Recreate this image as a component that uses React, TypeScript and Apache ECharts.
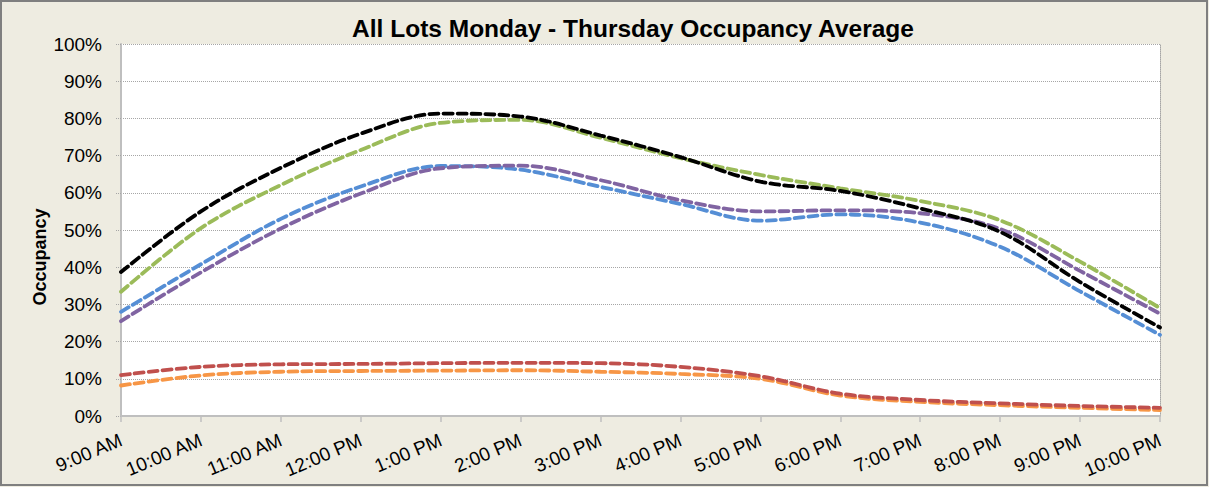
import React, { useEffect, useRef } from "react";
import * as echarts from "echarts";

const categories = [
  "9:00 AM", "10:00 AM", "11:00 AM", "12:00 PM", "1:00 PM", "2:00 PM", "3:00 PM",
  "4:00 PM", "5:00 PM", "6:00 PM", "7:00 PM", "8:00 PM", "9:00 PM", "10:00 PM",
];
const seriesBlack = [38.7, 55, 66.7, 75.9, 81.3, 80.5, 75.4, 69.6, 63, 60.5, 55.8, 49.5, 36, 23.8];
const seriesGreen = [33.4, 50.5, 62.1, 71.5, 78.8, 79.6, 74.8, 69.3, 64.8, 61.2, 57.8, 52.6, 41.5, 29];
const seriesBlue = [28, 40.8, 53, 61.7, 67.2, 66.2, 61.6, 57, 52.5, 54.2, 52, 45.5, 33.5, 21.8];
const seriesPurple = [25.5, 38.6, 50.4, 59.8, 66.6, 67.3, 63.4, 58, 55, 55.3, 54.5, 50.3, 39, 27.5];
const seriesRed = [11, 13.2, 13.9, 14, 14.2, 14.3, 14.2, 13.2, 10.7, 6, 4.3, 3.4, 2.7, 2.2];
const seriesOrange = [8.2, 10.9, 11.9, 12.1, 12.2, 12.3, 11.9, 11.3, 10, 5.5, 3.8, 2.9, 2.2, 1.6];

const titleText = "All Lots Monday - Thursday Occupancy Average";
const yAxisTitle = "Occupancy";

const lines = [
  { name: "Orange", data: seriesOrange, color: "#F79646" },
  { name: "Red", data: seriesRed, color: "#C0504D" },
  { name: "Blue", data: seriesBlue, color: "#558ED5" },
  { name: "Purple", data: seriesPurple, color: "#8064A2" },
  { name: "Green", data: seriesGreen, color: "#9BBB59" },
  { name: "Black", data: seriesBlack, color: "#000000" },
];

export default function App() {
  const ref = useRef<HTMLDivElement>(null);
  useEffect(() => {
    if (!ref.current) return;
    const chart = echarts.init(ref.current, null, { renderer: "svg" });
    const font = "'Liberation Sans', Arial, sans-serif";
    chart.setOption({
      animation: false,
      backgroundColor: "#EEECE1",
      textStyle: { fontFamily: font },
      title: {
        text: titleText,
        left: 628,
        top: 11,
        textAlign: "center",
        textStyle: { fontFamily: font, fontSize: 24.5, fontWeight: "bold", color: "#000" },
      },
      grid: {
        left: 121, right: 49, top: 44, bottom: 71,
        show: true, backgroundColor: "#FFFFFF", borderWidth: 0,
      },
      xAxis: {
        type: "category",
        data: categories,
        boundaryGap: false,
        axisLine: { show: true, lineStyle: { color: "#BFBFBF", width: 2 } },
        axisTick: { show: true, length: 6, alignWithLabel: true, lineStyle: { color: "#BFBFBF", width: 1.5 } },
        axisLabel: { rotate: 23, margin: 23, fontSize: 19, color: "#000", fontFamily: font, interval: 0 },
        splitLine: { show: false },
      },
      yAxis: [
        {
          type: "value",
          min: 0, max: 100, interval: 10,
          axisLine: { show: true, lineStyle: { color: "#BFBFBF", width: 2 } },
          axisTick: { show: true, length: 6, lineStyle: { color: "#A6A6A6", type: "dotted" } },
          axisLabel: { formatter: "{value}%", fontSize: 19, color: "#000", margin: 19, fontFamily: font },
          splitLine: { show: true, lineStyle: { color: "#A6A6A6", type: "dotted", width: 1 } },
        },
        {
          type: "value",
          position: "right",
          min: 0, max: 100, interval: 10,
          axisLine: { show: true, lineStyle: { color: "#A6A6A6", type: "dotted", width: 1 } },
          axisTick: { show: false },
          axisLabel: { show: false },
          splitLine: { show: false },
        },
      ],
      graphic: [
        {
          type: "rect",
          shape: { x: 1, y: 1, width: 1206, height: 484 },
          style: { fill: "none", stroke: "#7F7F7F", lineWidth: 2 },
          silent: true,
        },
        {
          type: "text",
          x: 40,
          y: 257,
          rotation: Math.PI / 2,
          style: {
            text: yAxisTitle,
            fontSize: 18,
            fontWeight: "bold",
            fontFamily: font,
            fill: "#000",
            align: "center",
            verticalAlign: "middle",
          },
        },
      ],
      series: lines.map((l) => ({
        name: l.name,
        type: "line",
        data: l.data,
        yAxisIndex: 0,
        smooth: 0.35,
        showSymbol: false,
        symbol: "none",
        lineStyle: { color: l.color, width: 3.8, type: [9, 5], cap: "round" },
        itemStyle: { color: l.color },
      })),
    });
    return () => chart.dispose();
  }, []);
  return (
    <div
      ref={ref}
      style={{ position: "absolute", left: 0, top: 0, width: 1209, height: 487 }}
    />
  );
}
